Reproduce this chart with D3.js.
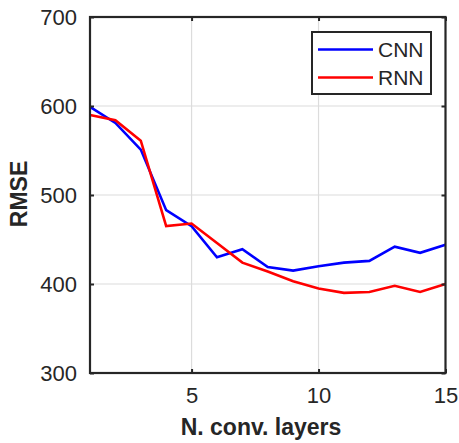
<!DOCTYPE html>
<html>
<head>
<meta charset="utf-8">
<script src="https://cdn.jsdelivr.net/npm/d3@7"></script>
<style>
  html, body { margin: 0; padding: 0; background: #fff; }
  svg { display: block; font-family: "Liberation Sans", Arial, sans-serif; }
</style>
</head>
<body>
<svg id="chart" width="459" height="443"></svg>
<script>
// Number of convolutional layers
const layers = [1, 2, 3, 4, 5, 6, 7, 8, 9, 10, 11, 12, 13, 14, 15];
// RMSE per model
const cnnRmse = [599, 581, 551, 483, 465, 430, 439, 419, 415, 420, 424, 426, 442, 435, 444];
const rnnRmse = [590, 584, 561, 465, 468, 446, 424, 414, 403, 395, 390, 391, 398, 391, 400];
const seriesNames = ["CNN", "RNN"];
const seriesColors = ["#0000ff", "#ff0000"];
const xTicks = [5, 10, 15];
const yTicks = [300, 400, 500, 600, 700];

const margin = { left: 90, top: 17, right: 13.5, bottom: 70 };
const W = 459, H = 443;
const iw = W - margin.left - margin.right;
const ih = H - margin.top - margin.bottom;

const svg = d3.select("#chart");
const g = svg.append("g").attr("transform", `translate(${margin.left},${margin.top})`);

const x = d3.scaleLinear().domain([1, 15]).range([0, iw]);
const y = d3.scaleLinear().domain([300, 700]).range([ih, 0]);

const axisColor = "#262626";

// grid
g.append("g").selectAll("line.gx").data(xTicks).join("line")
  .attr("x1", d => x(d)).attr("x2", d => x(d)).attr("y1", 0).attr("y2", ih)
  .attr("stroke", "#dcdcdc").attr("stroke-width", 1.2);
g.append("g").selectAll("line.gy").data(yTicks).join("line")
  .attr("x1", 0).attr("x2", iw).attr("y1", d => y(d)).attr("y2", d => y(d))
  .attr("stroke", "#dcdcdc").attr("stroke-width", 1.2);

// series
const series = [cnnRmse, rnnRmse];
const line = d3.line().x((d, i) => x(layers[i])).y(d => y(d));
series.forEach((s, k) => {
  g.append("path").datum(s)
    .attr("fill", "none")
    .attr("stroke", seriesColors[k])
    .attr("stroke-width", 2.6)
    .attr("stroke-linejoin", "miter")
    .attr("d", line);
});

// axes (ticks point inward)
const tickLen = 4;
const xAxis = g.append("g").attr("transform", `translate(0,${ih})`)
  .call(d3.axisBottom(x).tickValues(xTicks).tickSizeInner(-tickLen).tickSizeOuter(0).tickPadding(14));
const yAxis = g.append("g")
  .call(d3.axisLeft(y).tickValues(yTicks).tickSizeInner(-tickLen).tickSizeOuter(0).tickPadding(13));
const xTop = g.append("g")
  .call(d3.axisTop(x).tickValues(xTicks).tickSizeInner(-tickLen).tickSizeOuter(0).tickFormat(""));
const yRight = g.append("g").attr("transform", `translate(${iw},0)`)
  .call(d3.axisRight(y).tickValues(yTicks).tickSizeInner(-tickLen).tickSizeOuter(0).tickFormat(""));

[xAxis, yAxis, xTop, yRight].forEach(a => {
  a.select(".domain").remove();
  a.selectAll(".tick line").attr("stroke", axisColor).attr("stroke-width", 2);
  a.selectAll(".tick text").attr("fill", axisColor).attr("font-size", 22)
    .attr("font-family", "'Liberation Sans', Arial, sans-serif");
});

// box
g.append("rect").attr("x", 0).attr("y", 0).attr("width", iw).attr("height", ih)
  .attr("fill", "none").attr("stroke", axisColor).attr("stroke-width", 2.2);

// axis titles
svg.append("text")
  .attr("x", 261).attr("y", 435)
  .attr("text-anchor", "middle")
  .attr("font-size", 23).attr("font-weight", "bold").attr("fill", axisColor)
  .text("N. conv. layers");
svg.append("text")
  .attr("transform", "translate(27,194) rotate(-90)")
  .attr("text-anchor", "middle")
  .attr("font-size", 23).attr("font-weight", "bold").attr("fill", axisColor)
  .text("RMSE");

// legend
const lg = svg.append("g").attr("transform", "translate(312,32)");
lg.append("rect").attr("x", 0).attr("y", 0).attr("width", 119).attr("height", 62)
  .attr("fill", "#fff").attr("stroke", axisColor).attr("stroke-width", 2);
seriesNames.forEach((name, k) => {
  const yy = 17.5 + k * 28;
  lg.append("line").attr("x1", 6).attr("x2", 61).attr("y1", yy).attr("y2", yy)
    .attr("stroke", seriesColors[k]).attr("stroke-width", 2.6);
  lg.append("text").attr("x", 66).attr("y", yy + 7.5)
    .attr("font-size", 21).attr("fill", axisColor).text(name);
});
</script>
</body>
</html>
